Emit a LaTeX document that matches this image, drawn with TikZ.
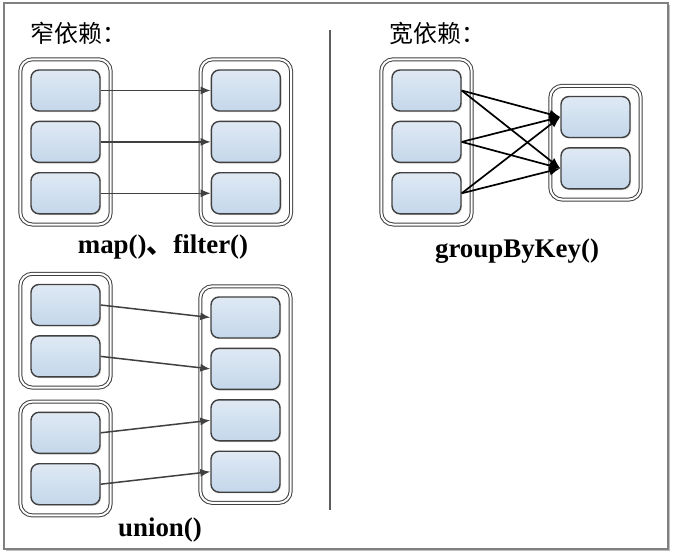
\documentclass[tikz,border=0pt]{standalone}
\usepackage{fontspec}
\setmainfont{Liberation Serif}
\newfontfamily\cjk{Noto Sans CJK SC}
\usetikzlibrary{positioning,arrows.meta,fit,backgrounds,shadows}
\definecolor{boxtop}{RGB}{223,233,244}
\definecolor{boxbot}{RGB}{196,215,234}
\definecolor{lineg}{RGB}{64,64,64}
\definecolor{framegray}{RGB}{128,128,128}
\tikzset{
  part/.style={draw=lineg,line width=1.4bp,rounded corners=8bp,minimum width=69bp,minimum height=41bp,inner sep=0pt,
    top color=boxtop,bottom color=boxbot,drop shadow={shadow xshift=1.2bp,shadow yshift=-1.2bp,opacity=0.25}},
  rdd/.style={draw=lineg,line width=1bp,double=white,double distance=2bp,rounded corners=12bp,inner sep=10bp,fill=white,
    drop shadow={shadow xshift=1.5bp,shadow yshift=-1.5bp,opacity=0.2}},
  ar/.style={-{Latex[length=10bp,width=8bp]},line width=1.5bp,lineg},
  war/.style={-{Latex[length=11bp,width=9bp]},line width=1.7bp,black},
  ttl/.style={font=\cjk\fontsize{24}{28}\selectfont,anchor=west},
  lbl/.style={font=\bfseries\fontsize{27}{30}\selectfont},
}
\begin{document}
\begin{tikzpicture}[x=1bp,y=1bp,node distance=9bp and 110bp]
  \useasboundingbox (0,0) rectangle (676,-560);
  % narrow: map / filter
  \node[part] (m1) at (65.5,-90.5) {};
  \node[part,below=of m1] (m2) {};
  \node[part,below=of m2] (m3) {};
  \node[part,right=of m1] (f1) {};
  \node[part,right=of m2] (f2) {};
  \node[part,right=of m3] (f3) {};
  % narrow: union
  \node[part] (u1) at (65.5,-305) {};
  \node[part,below=of u1] (u2) {};
  \node[part,below=34bp of u2] (u3) {};
  \node[part,below=of u3] (u4) {};
  \node[part] (n1) at (245.5,-317.5) {};
  \node[part,below=of n1] (n2) {};
  \node[part,below=of n2] (n3) {};
  \node[part,below=of n3] (n4) {};
  % wide: groupByKey
  \node[part] (w1) at (426.5,-90.5) {};
  \node[part,below=of w1] (w2) {};
  \node[part,below=of w2] (w3) {};
  \node[part] (v1) at (595.5,-117) {};
  \node[part,below=of v1] (v2) {};
  % frame and rdd containers
  \begin{scope}[on background layer]
    \draw[framegray,line width=1.2bp,fill=white,drop shadow={shadow xshift=2bp,shadow yshift=-2bp,fill=black!25,opacity=1}]
      (4,-3) rectangle (668,-549);
    \node[rdd,fit=(m1)(m3)] (cm) {};
    \node[rdd,fit=(f1)(f3)] (cf) {};
    \node[rdd,fit=(u1)(u2)] (cu1) {};
    \node[rdd,fit=(u3)(u4)] (cu2) {};
    \node[rdd,fit=(n1)(n4)] (cn) {};
    \node[rdd,fit=(w1)(w3)] (cw) {};
    \node[rdd,fit=(v1)(v2)] (cv) {};
  \end{scope}
  \draw[lineg!85,line width=1.5bp] (330,-30) -- (330,-510);
  % titles and labels
  \node[ttl] (tn) at (27,-33) {窄依赖：};
  \node[ttl] (tw) at (386,-33) {宽依赖：};
  \node[lbl] (lmap) at (163,-247) {map(){\cjk 、}filter()};
  \node[lbl] (luni) at (160,-530) {union()};
  \node[lbl] (lgrp) at (517,-251) {groupByKey()};
  % arrows narrow
  \draw[ar] (m1) -- (f1);
  \draw[ar] (m2) -- (f2);
  \draw[ar] (m3) -- (f3);
  \draw[ar] (u1.east) -- (n1.west);
  \draw[ar] (u2.east) -- (n2.west);
  \draw[ar] (u3.east) -- (n3.west);
  \draw[ar] (u4.east) -- (n4.west);
  % arrows wide
  \draw[war] (w1.east) -- (v1.west);
  \draw[war] (w1.east) -- (v2.west);
  \draw[war] (w2.east) -- (v1.west);
  \draw[war] (w2.east) -- (v2.west);
  \draw[war] (w3.east) -- (v1.west);
  \draw[war] (w3.east) -- (v2.west);
\end{tikzpicture}
\end{document}
